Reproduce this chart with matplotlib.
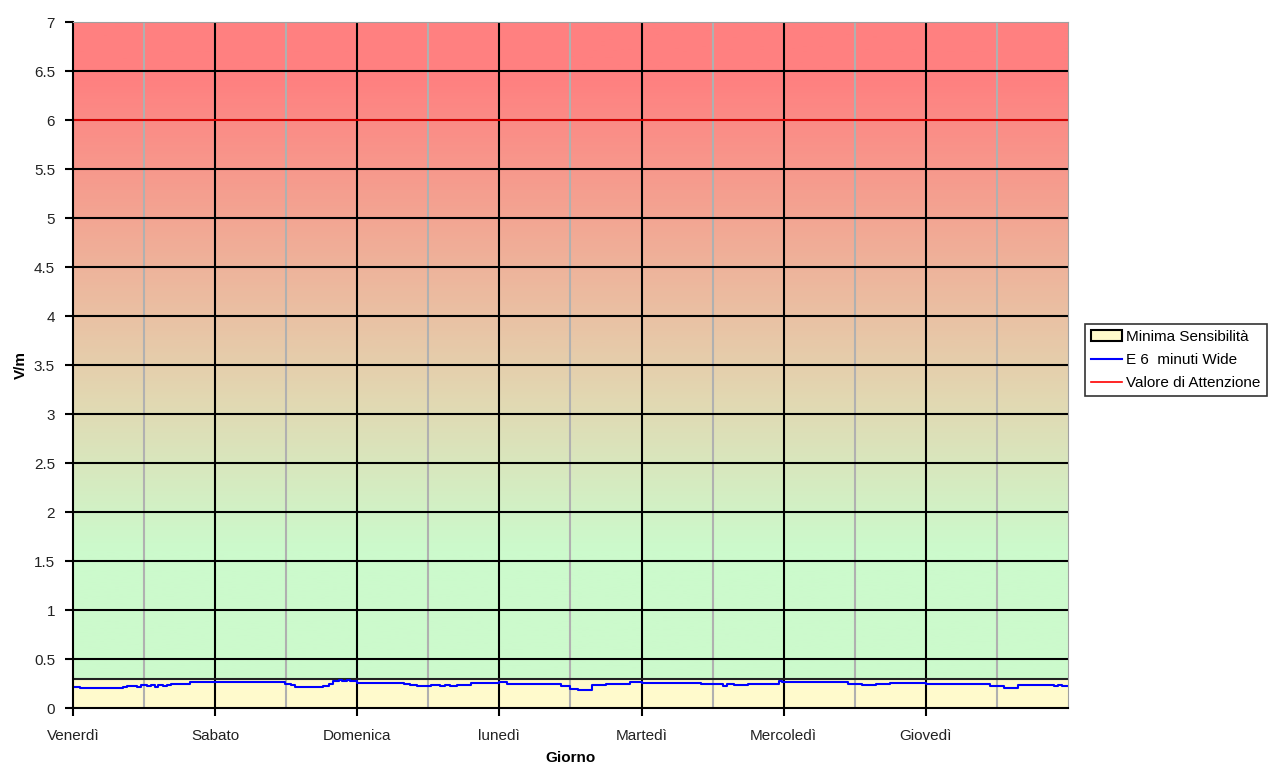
import numpy as np
import matplotlib.pyplot as plt
from matplotlib.colors import LinearSegmentedColormap
from matplotlib.patches import Patch
from matplotlib.lines import Line2D

plt.rcParams['font.family'] = ['Liberation Sans', 'DejaVu Sans']

giorni = ['Venerdì', 'Sabato', 'Domenica', 'lunedì', 'Martedì', 'Mercoledì', 'Giovedì']

# E 6 minuti Wide (V/m), step values; t in days from Friday 00:00
t_e = [0.00, 0.05, 0.35, 0.38, 0.42, 0.45, 0.48, 0.52, 0.55, 0.58, 0.60, 0.63, 0.66,
       0.69, 0.72, 0.76, 0.82, 1.49, 1.53, 1.56, 1.73, 1.76, 1.80, 1.83, 1.87, 1.89,
       1.93, 1.95, 2.00, 2.33, 2.37, 2.42, 2.48, 2.52, 2.58, 2.62, 2.65, 2.70, 2.75,
       2.80, 3.00, 3.05, 3.10, 3.20, 3.30, 3.43, 3.50, 3.55, 3.62, 3.65, 3.75, 3.92,
       4.00, 4.42, 4.50, 4.57, 4.60, 4.65, 4.70, 4.75, 4.97, 4.99, 5.45, 5.50, 5.55,
       5.60, 5.65, 5.72, 5.75, 6.00, 6.45, 6.55, 6.65, 6.85, 6.90, 6.93, 6.96, 7.00]
e_wide = [0.21, 0.205, 0.215, 0.22, 0.225, 0.215, 0.23, 0.225, 0.235, 0.21, 0.23, 0.225, 0.235,
          0.24, 0.245, 0.24, 0.265, 0.25, 0.235, 0.21, 0.215, 0.225, 0.24, 0.28, 0.29, 0.28,
          0.29, 0.28, 0.26, 0.25, 0.23, 0.225, 0.22, 0.23, 0.22, 0.235, 0.225, 0.23, 0.235,
          0.26, 0.265, 0.25, 0.245, 0.25, 0.245, 0.22, 0.19, 0.185, 0.185, 0.23, 0.25, 0.265,
          0.26, 0.245, 0.24, 0.225, 0.24, 0.23, 0.235, 0.245, 0.275, 0.265, 0.24, 0.25, 0.235,
          0.23, 0.24, 0.25, 0.26, 0.24, 0.225, 0.205, 0.23, 0.235, 0.225, 0.235, 0.225, 0.225]

minima_sensibilita = 0.3
valore_attenzione = 6

fig = plt.figure(figsize=(12.75, 7.67), dpi=100)
ax = fig.add_axes([0.0573, 0.0769, 0.7803, 0.8944])

# gradient background red -> light green
cmap = LinearSegmentedColormap.from_list(
    'bg', [(0, '#CCFACC'), (0.23, '#CCFACC'), (0.45, '#E2D8B2'), (0.7, '#F2A894'),
           (0.92, '#FF8080'), (1, '#FF8080')])
grad = np.linspace(0, 1, 300).reshape(-1, 1)
ax.imshow(grad, extent=[0, 7, 0, 7], origin='lower', aspect='auto', cmap=cmap, zorder=0)

ax.fill_between([0, 7], 0, minima_sensibilita, color='#FFFACC', edgecolor='none', zorder=1)
ax.axhline(minima_sensibilita, color='#222222', lw=1.5, zorder=2)

# grid
for d in np.arange(0.5, 7, 1):
    ax.axvline(d, color='#B0B0B0', lw=1.5, zorder=1.5)
for d in range(1, 7):
    ax.axvline(d, color='black', lw=1.5, zorder=1.5)
for v in np.arange(0.5, 7, 0.5):
    ax.axhline(v, color='black', lw=1.5, zorder=1.5)
ax.axhline(valore_attenzione, color='red', lw=1.2, zorder=2)

ax.step(t_e, e_wide, where='post', color='blue', lw=1.5, zorder=3)

ax.set_xlim(0, 7)
ax.set_ylim(0, 7)
ax.set_xticks(range(7))
ax.set_xticklabels(giorni, fontsize=11, color='#222222')
ax.set_yticks(np.arange(0, 7.01, 0.5))
ax.set_yticklabels(['%g' % v for v in np.arange(0, 7.01, 0.5)], fontsize=11, color='#222222')
ax.tick_params(axis='x', length=6, width=1.5, pad=9)
ax.tick_params(axis='y', length=6, width=1.5, pad=7)

ax.spines['left'].set_linewidth(1.5)
ax.spines['bottom'].set_linewidth(1.5)
ax.spines['top'].set_color('#A0A0A0')
ax.spines['right'].set_color('#A0A0A0')
for s in ax.spines.values():
    s.set_zorder(4)

ax.set_ylabel('V/m', fontsize=11, fontweight='bold', labelpad=4)
ax.set_xlabel('Giorno', fontsize=11, fontweight='bold', labelpad=6)

handles = [Patch(facecolor='#FFFACC', edgecolor='black', lw=1.5, label='Minima Sensibilità'),
           Line2D([], [], color='blue', lw=1.5, label='E 6  minuti Wide'),
           Line2D([], [], color='red', lw=1.2, label='Valore di Attenzione')]
leg = fig.legend(handles=handles, loc='upper left', bbox_to_anchor=(0.851, 0.578), fontsize=11,
                 frameon=True, fancybox=False, edgecolor='black', borderpad=0.4,
                 labelspacing=0.6, handlelength=2.0, handletextpad=0.3, borderaxespad=0)
leg.get_frame().set_linewidth(1.2)

fig.savefig('out.png', dpi=100)
